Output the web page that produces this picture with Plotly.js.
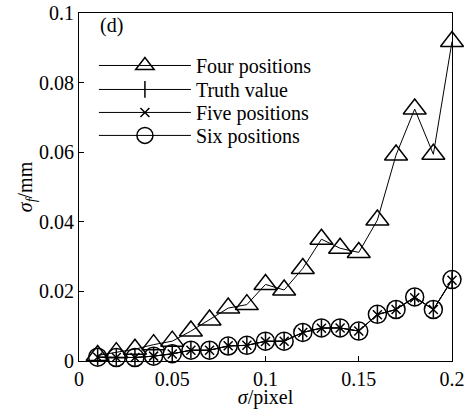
<!DOCTYPE html>
<html>
<head>
<meta charset="utf-8">
<script src="https://cdn.plot.ly/plotly-3.0.1.min.js"></script>
<style>
html,body{margin:0;padding:0;background:#fff;}
#chart{width:470px;height:409px;}
</style>
</head>
<body>
<div id="chart"></div>
<script>
const sigma = [0.01,0.02,0.03,0.04,0.05,0.06,0.07,0.08,0.09,0.10,0.11,0.12,0.13,0.14,0.15,0.16,0.17,0.18,0.19,0.20];
const fourPositions = [0.0016,0.0024,0.0034,0.0047,0.0057,0.0086,0.0118,0.0152,0.0162,0.0220,0.0204,0.0266,0.0350,0.0324,0.0312,0.0405,0.0592,0.0724,0.0594,0.0918];
const truthValue = [0.0011,0.0010,0.0010,0.0014,0.0021,0.0031,0.0031,0.0043,0.0045,0.0057,0.0057,0.0082,0.0095,0.0095,0.0086,0.0134,0.0148,0.0184,0.0148,0.0234];
const fivePositions = [0.0011,0.0010,0.0010,0.0014,0.0020,0.0031,0.0031,0.0044,0.0045,0.0056,0.0057,0.0082,0.0094,0.0095,0.0086,0.0133,0.0148,0.0182,0.0148,0.0232];
const sixPositions = [0.0011,0.0010,0.0010,0.0014,0.0021,0.0031,0.0031,0.0043,0.0045,0.0057,0.0057,0.0082,0.0095,0.0095,0.0086,0.0134,0.0148,0.0184,0.0148,0.0234];
const seriesNames = ['Four positions','Truth value','Five positions','Six positions'];
const xTickVals = [0,0.05,0.1,0.15,0.2];
const xTickText = ['0','0.05','0.1','0.15','0.2'];
const yTickVals = [0,0.02,0.04,0.06,0.08,0.1];
const yTickText = ['0','0.02','0.04','0.06','0.08','0.1'];

const FONT = 'Liberation Serif';
function tr(y, name, symbol, size, legend) {
  return {
    x: sigma, y: y, name: name, type: 'scatter', mode: 'lines+markers',
    line: {color: '#000', width: 1},
    marker: {symbol: symbol, size: size, color: '#000', line: {color: '#000', width: 1.5}},
    cliponaxis: false, legend: legend
  };
}
const data = [
  tr(fourPositions, seriesNames[0], 'triangle-up-open', 20, 'legend'),
  tr(truthValue, seriesNames[1], 'line-ns-open', 12, 'legend2'),
  tr(fivePositions, seriesNames[2], 'x-thin-open', 9, 'legend3'),
  tr(sixPositions, seriesNames[3], 'circle-open', 18, 'legend4')
];
function lg(y) {
  return {x: 0.04, y: y, xanchor: 'left', yanchor: 'middle', bgcolor: 'rgba(0,0,0,0)',
    borderwidth: 0, itemwidth: 92, font: {family: FONT, size: 20, color: '#000'}};
}
const H = 348.2, T = 12.5;
function py(pix) { return 1 - (pix - T) / H; }
const layout = {
  width: 470, height: 409,
  margin: {l: 79, r: 18, t: 12.5, b: 48.3},
  paper_bgcolor: '#fff', plot_bgcolor: '#fff',
  font: {family: FONT, size: 20, color: '#000'},
  xaxis: {
    range: [0, 0.2], tickvals: xTickVals, ticktext: xTickText,
    ticks: 'inside', ticklen: 5, tickcolor: '#000', tickwidth: 1,
    showline: true, linecolor: '#000', linewidth: 1, mirror: true,
    showgrid: false, zeroline: false,
    tickfont: {family: FONT, size: 20, color: '#000'},
    title: {text: '<i>σ</i>/pixel', font: {family: FONT, size: 20, color: '#000'}, standoff: 4}
  },
  yaxis: {
    range: [0, 0.1], tickvals: yTickVals, ticktext: yTickText,
    ticks: 'inside', ticklen: 5, tickcolor: '#000', tickwidth: 1,
    showline: true, linecolor: '#000', linewidth: 1, mirror: true,
    showgrid: false, zeroline: false, automargin: 'left',
    tickfont: {family: FONT, size: 20, color: '#000'},
    title: {text: '<i>σ<sub>f</sub></i>/mm', font: {family: FONT, size: 20, color: '#000'}, standoff: 1}
  },
  showlegend: true,
  legend: lg(py(65)), legend2: lg(py(89)), legend3: lg(py(112)), legend4: lg(py(135)),
  annotations: [{
    xref: 'paper', yref: 'paper', x: 0.05, y: py(25), xanchor: 'left', yanchor: 'middle',
    text: '(d)', showarrow: false, font: {family: FONT, size: 20, color: '#000'}
  }]
};
Plotly.newPlot('chart', data, layout, {displayModeBar: false, staticPlot: true});
</script>
</body>
</html>
